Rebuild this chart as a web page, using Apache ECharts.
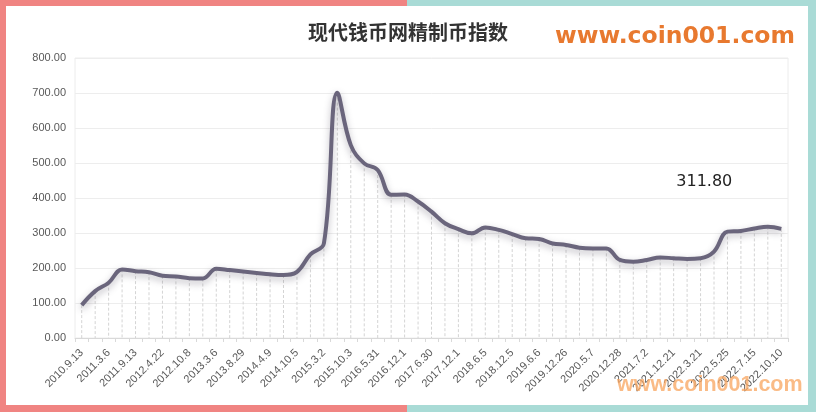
<!DOCTYPE html>
<html>
<head>
<meta charset="utf-8">
<script src="https://cdn.jsdelivr.net/npm/echarts@6/dist/echarts.min.js"></script>
<style>
html,body{margin:0;padding:0;background:#fff;}
#c{width:816px;height:412px;}
</style>
</head>
<body>
<div id="c"></div>
<script>
const tickLabels = ['2010.9.13','2011.3.6','2011.9.13','2012.4.22','2012.10.8','2013.3.6','2013.8.29','2014.4.9','2014.10.5','2015.3.2','2015.10.3','2016.5.31','2016.12.1','2017.6.30','2017.12.1','2018.6.5','2018.12.5','2019.6.6','2019.12.26','2020.5.7','2020.12.28','2021.7.2','2021.12.21','2022.3.21','2022.5.25','2022.7.15','2022.10.10'];
const indexValues = [94,134,158,196,191,188,178,176,171,170,198,194,190,186,182,180,189,239,270,701,551,499,480,409,410,390,361,328,311,299,316,309,297,285,283,270,266,258,256,256,223,218,223,230,228,226,228,247,304,306,313,318,311.8];
const yTicks = [0,100,200,300,400,500,600,700,800];
const latestLabel = '311.80';

// categories: every labelled date, with unlabelled observations between them
const categories = [];
tickLabels.forEach((t, i) => { categories.push(t); if (i < tickLabels.length - 1) categories.push(''); });

const chart = echarts.init(document.getElementById('c'), null, {renderer: 'canvas'});
const last = indexValues.length - 1;

chart.setOption({
  animation: false,
  backgroundColor: '#ffffff',
  title: {
    text: '现代钱币网精制币指数',
    left: 'center',
    top: 17,
    textStyle: {fontFamily: 'Noto Sans CJK SC', fontSize: 20, fontWeight: 'bold', color: '#333333'}
  },
  grid: {left: 75, right: 28, top: 58, bottom: 74, show: true, borderColor: '#ececec', borderWidth: 1},
  xAxis: {
    type: 'category',
    data: categories,
    boundaryGap: true,
    axisLine: {show: true, lineStyle: {color: '#d9d9d9'}},
    axisTick: {show: true, interval: 0, length: 4, lineStyle: {color: '#d9d9d9'}},
    axisLabel: {interval: 1, rotate: 45, fontFamily: 'Liberation Sans', fontSize: 11, color: '#595959', margin: 13},
    splitLine: {show: false}
  },
  yAxis: {
    type: 'value',
    min: yTicks[0],
    max: yTicks[yTicks.length - 1],
    interval: 100,
    axisLine: {show: false},
    axisTick: {show: false},
    axisLabel: {fontFamily: 'Liberation Sans', fontSize: 11, color: '#595959', margin: 9,
      formatter: v => v.toFixed(2)},
    splitLine: {lineStyle: {color: '#ededed', width: 1}}
  },
  series: [
    {
      type: 'custom',
      silent: true,
      z: 1,
      renderItem: function (params, api) {
        const top = api.coord([api.value(0), api.value(1)]);
        const bot = api.coord([api.value(0), 0]);
        return {
          type: 'line',
          shape: {x1: top[0], y1: top[1], x2: bot[0], y2: bot[1]},
          style: {stroke: '#d4d4d4', lineWidth: 1, lineDash: [3, 2]}
        };
      },
      data: indexValues.map((v, i) => [i, v])
    },
    {
      type: 'line',
      data: indexValues,
      smooth: 0.4,
      symbol: 'none',
      z: 3,
      lineStyle: {color: '#6a657c', width: 4, shadowColor: 'rgba(60,55,75,0.35)', shadowBlur: 7, shadowOffsetY: 3},
      markPoint: {
        symbol: 'circle',
        symbolSize: 0,
        data: [{coord: [last, indexValues[last]], value: indexValues[last]}],
        label: {show: true, formatter: latestLabel, offset: [-77, -47],
          fontFamily: 'DejaVu Sans', fontSize: 16, color: '#222222'}
      }
    }
  ],
  graphic: [
    {type: 'rect', shape: {x: 0, y: 0, width: 6, height: 412}, style: {fill: '#f08482'}, z: 10},
    {type: 'rect', shape: {x: 0, y: 0, width: 407, height: 6}, style: {fill: '#f08482'}, z: 10},
    {type: 'rect', shape: {x: 0, y: 405, width: 407, height: 7}, style: {fill: '#f08482'}, z: 10},
    {type: 'rect', shape: {x: 407, y: 0, width: 409, height: 6}, style: {fill: '#a9dbd6'}, z: 10},
    {type: 'rect', shape: {x: 407, y: 405, width: 409, height: 7}, style: {fill: '#a9dbd6'}, z: 10},
    {type: 'rect', shape: {x: 808, y: 0, width: 8, height: 412}, style: {fill: '#a9dbd6'}, z: 10},
    {type: 'text', x: 555, y: 37, z: 10,
      style: {text: 'www.coin001.com', fontFamily: 'DejaVu Sans', fontWeight: 'bold', fontSize: 23.5,
        fill: '#e8792f', verticalAlign: 'middle', align: 'left'}},
    {type: 'text', x: 617, y: 385, z: 20,
      style: {text: 'www.coin001.com', fontFamily: 'Liberation Sans', fontWeight: 'bold', fontSize: 21.5,
        fill: 'rgba(249,168,100,0.78)', verticalAlign: 'middle', align: 'left'}}
  ]
});
</script>
</body>
</html>
